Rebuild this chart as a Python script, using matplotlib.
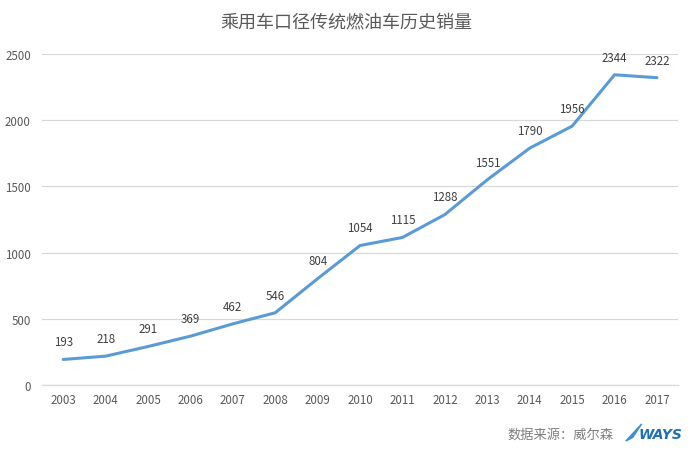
import matplotlib
matplotlib.use("Agg")
import matplotlib.pyplot as plt
from matplotlib.patches import Polygon

plt.rcParams['font.family'] = ['Noto Sans CJK SC', 'DejaVu Sans']

years = ['2003', '2004', '2005', '2006', '2007', '2008', '2009', '2010',
         '2011', '2012', '2013', '2014', '2015', '2016', '2017']
sales = [193, 218, 291, 369, 462, 546, 804, 1054, 1115, 1288, 1551, 1790, 1956, 2344, 2322]
yticks = [0, 500, 1000, 1500, 2000, 2500]
title = '乘用车口径传统燃油车历史销量'
source = '数据来源：威尔森'

fig = plt.figure(figsize=(6.93, 4.52), dpi=100)
ax = fig.add_axes([0.0606, 0.146, 0.918, 0.732])
x = list(range(len(years)))
ax.plot(x, sales, color='#5B9BD5', linewidth=2.2, solid_capstyle='round', zorder=3)
for xi, v in zip(x, sales):
    ax.annotate(str(v), (xi, v), xytext=(0, 8), textcoords='offset points',
                ha='center', va='bottom', fontsize=8.3, color='#404040')
ax.set_xlim(-0.5, len(years) - 0.5)
ax.set_ylim(0, 2500)
ax.set_yticks(yticks)
ax.set_xticks(x)
ax.set_xticklabels(years)
ax.tick_params(axis='both', length=0, labelsize=8.3, colors='#595959')
ax.tick_params(axis='y', pad=8)
ax.tick_params(axis='x', pad=6)
ax.grid(axis='y', color='#D9D9D9', linewidth=0.9)
ax.set_axisbelow(True)
for s in ['top', 'right', 'left']:
    ax.spines[s].set_visible(False)
ax.spines['bottom'].set_color('#D9D9D9')
ax.spines['bottom'].set_linewidth(0.9)

fig.text(0.5, 0.951, title, ha='center', va='center', fontsize=13, color='#595959')
fig.text(0.885, 0.037, source, ha='right', va='center', fontsize=9.5, color='#7F7F7F')
# WAYS logo
fig.text(0.953, 0.037, 'WAYS', ha='center', va='center', fontsize=10,
         fontweight='bold', style='italic', color='#1F6FB5', family=['DejaVu Sans'])
swoosh = Polygon([[0.903, 0.022], [0.926, 0.060], [0.913, 0.030]], closed=True,
                 transform=fig.transFigure, color='#3A8FD8')
fig.patches.append(swoosh)

fig.savefig('out.png', dpi=100)
